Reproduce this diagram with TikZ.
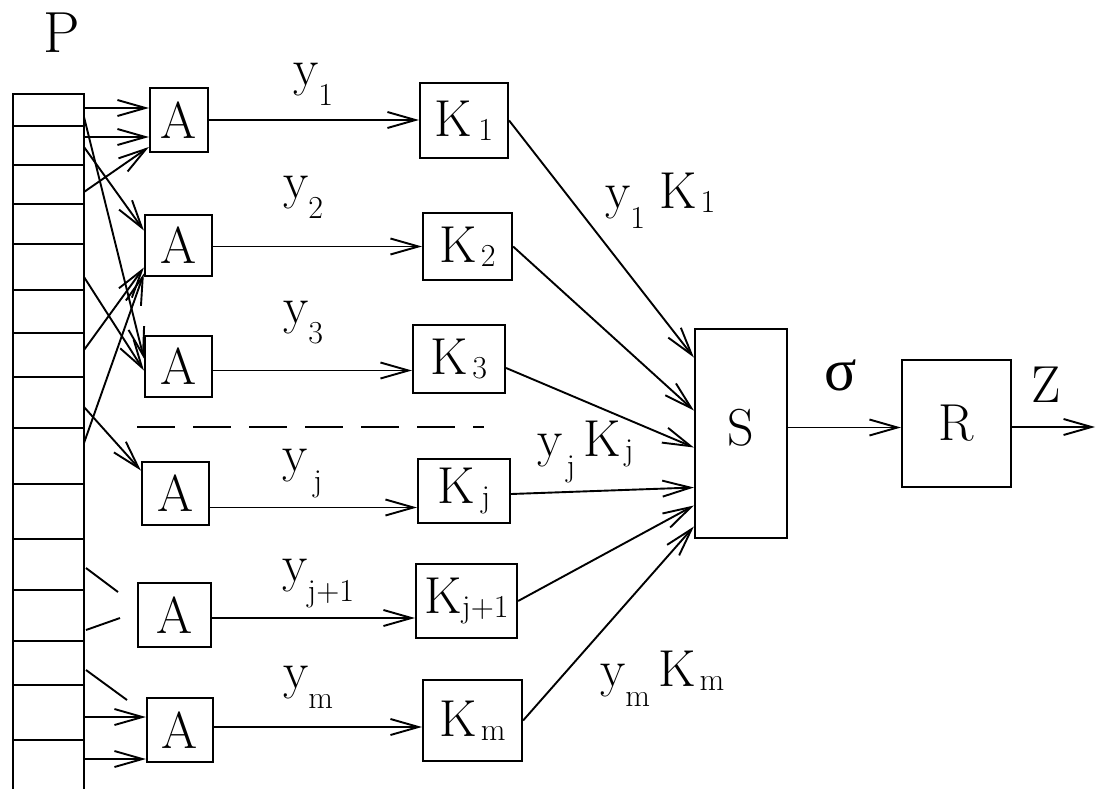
\documentclass[tikz,border=0pt]{standalone}
\usepackage{fontspec}
\newfontfamily\grfont{Liberation Serif}
\usetikzlibrary{arrows.meta}
\newcommand\lowsub[1]{\raisebox{-20pt}{\fontsize{32}{32}\selectfont #1}}
\newcommand\ksub[1]{\raisebox{-4pt}{\fontsize{32}{32}\selectfont #1}}
\begin{document}
\begin{tikzpicture}[x=1pt,y=-1pt,
  font=\fontsize{52}{56}\selectfont,
  box/.style={draw,line width=2.2pt,inner sep=0pt},
  conn/.style={line width=1.9pt},
  arr/.style={conn,-{Straight Barb[length=28pt,width=16pt]}},
  lbl/.style={inner sep=0pt,anchor=base west}]
\useasboundingbox (0,0) rectangle (1097,789);
% register P
\node[box,minimum width=71pt,minimum height=700pt,anchor=north west] (reg) at (12,93) {};
\foreach \yy in {126,165,204,244,290,333,377,428,484,539,590,641,685,740}
  \draw[line width=2.2pt] (12,\yy) -- (83,\yy);
\node[lbl,font=\fontsize{58}{60}\selectfont] (Plab) at (43,53) {P};
% A boxes
\node[box,minimum width=58pt,minimum height=64pt] (A1) at (179,120) {A};
\node[box,minimum width=67pt,minimum height=61pt] (A2) at (178.5,245.5) {A};
\node[box,minimum width=67pt,minimum height=61pt] (A3) at (178.5,366.5) {A};
\node[box,minimum width=67pt,minimum height=63pt] (Aj) at (175.5,493.5) {A};
\node[box,minimum width=73pt,minimum height=64pt] (Aj1) at (174.5,615) {A};
\node[box,minimum width=66pt,minimum height=64pt] (Am) at (180,730) {A};
% K boxes
\node[box,minimum width=88pt,minimum height=75pt] (K1) at (464,120.5) {K\hspace{6pt}\ksub{1}};
\node[box,minimum width=89pt,minimum height=67pt] (K2) at (467.5,246.5) {K\hspace{4pt}\ksub{2}};
\node[box,minimum width=92pt,minimum height=68pt] (K3) at (459,359) {K\hspace{4pt}\ksub{3}};
\node[box,minimum width=92pt,minimum height=64pt] (Kj) at (464,491) {K\hspace{6pt}\ksub{j}};
\node[box,minimum width=101pt,minimum height=74pt] (Kj1) at (466.5,601) {K\ksub{j+1}};
\node[box,minimum width=99pt,minimum height=81pt] (Km) at (472.5,720.5) {K\hspace{4pt}\ksub{m}};
% S and R
\node[box,minimum width=92pt,minimum height=209pt] (S) at (741,433.5) {\raisebox{12pt}{S}};
\node[box,minimum width=109pt,minimum height=127pt] (R) at (956.5,423.5) {R};
% register outputs
\coordinate (p1) at (83,108);
\coordinate (p2) at (83,137);
\coordinate (p3) at (84,192);
\coordinate (p4) at (84,147);
\coordinate (p5) at (84,350);
\coordinate (p6) at (84,443);
\coordinate (p7) at (84,117);
\coordinate (p8) at (84,277);
\coordinate (p9) at (84,407);
\coordinate (p10) at (86,568); \coordinate (s10) at (118,592);
\coordinate (p11) at (86,630); \coordinate (s11) at (120,618);
\coordinate (p12) at (86,670); \coordinate (s12) at (127,700);
\coordinate (p13) at (84,717);
\coordinate (p14) at (84,759);
\draw[arr] (p1) -- ([yshift=12pt]A1.west);
\draw[arr] (p2) -- ([yshift=-17pt]A1.west);
\draw[arr] (p3) -- ([yshift=-27pt]A1.west);
\draw[arr] (p4) -- ([yshift=15pt]A2.west);
\draw[arr] (p5) -- ([yshift=-22pt]A2.west);
\draw[arr] (p6) -- ([yshift=-28pt]A2.west);
\draw[arr] (p7) -- ([yshift=8pt]A3.west);
\draw[arr] (p8) -- ([yshift=-4pt]A3.west);
\draw[arr] (p9) -- ([yshift=23pt]Aj.west);
\draw[conn] (p10) -- (s10);
\draw[conn] (p11) -- (s11);
\draw[conn] (p12) -- (s12);
\draw[arr] (p13) -- ([yshift=13pt]Am.west);
\draw[arr] (p14) -- ([yshift=-29pt]Am.west);
% A -> K
\coordinate (a1o) at (A1.east);
\coordinate (a2o) at ([yshift=-1pt]A2.east);
\coordinate (a3o) at ([yshift=-4pt]A3.east);
\coordinate (ajo) at ([yshift=-14pt]Aj.east);
\coordinate (aj1o) at ([yshift=-3pt]Aj1.east);
\coordinate (amo) at ([yshift=3pt]Am.east);
\draw[arr] (a1o) -- (a1o -| K1.west);
\draw[arr] (a2o) -- (a2o -| K2.west);
\draw[arr] (a3o) -- (a3o -| K3.west);
\draw[arr] (ajo) -- (ajo -| Kj.west);
\draw[arr] (aj1o) -- (aj1o -| Kj1.west);
\draw[arr] (amo) -- (amo -| Km.west);
% y labels
\node[lbl] (ly1) at (293,86) {y\lowsub{1}};
\node[lbl] (ly2) at (283,198) {y\lowsub{2}};
\node[lbl] (ly3) at (283,323) {y\lowsub{3}};
\node[lbl] (lyj) at (282,471) {y\hspace{6pt}\lowsub{j}};
\node[lbl] (lyj1) at (282,581) {y\lowsub{j+1}};
\node[lbl] (lym) at (283,688) {y\lowsub{m}};
% dashed separator
\coordinate (d1) at (137,427);
\coordinate (d2) at (484,427);
\draw[line width=2.2pt,dash pattern=on 38pt off 18pt] (d1) -- (d2);
% K -> S
\draw[arr] (K1.east) -- ([yshift=76pt]S.west);
\draw[arr] (K2.east) -- ([yshift=23pt]S.west);
\draw[arr] ([yshift=-9pt]K3.east) -- ([yshift=-14pt]S.west);
\draw[arr] ([yshift=-3pt]Kj.east) -- ([yshift=-54pt]S.west);
\draw[arr] (Kj1.east) -- ([yshift=-72pt]S.west);
\draw[arr] (Km.east) -- ([yshift=-93pt]S.west);
\node[lbl] (lk1) at (605,208) {y\lowsub{1}\hspace{14pt}K\hspace{4pt}\ksub{1}};
\node[lbl] (lkj) at (537,456) {y\hspace{4pt}\lowsub{j}\hspace{8pt}K\hspace{4pt}\ksub{j}};
\node[lbl] (lkm) at (600,686) {y\lowsub{m}\hspace{8pt}K\hspace{4pt}\ksub{m}};
% S -> R -> out
\coordinate (so) at ([yshift=6pt]S.east);
\draw[arr] (so) -- (so -| R.west);
\node[lbl,font=\fontsize{60}{60}\grfont] (lsig) at (824,390) {σ};
\coordinate (zo) at (1095,427);
\draw[arr] (R.east |- zo) -- (zo);
\node[lbl] (lz) at (1031,402) {Z};
\end{tikzpicture}
\end{document}
